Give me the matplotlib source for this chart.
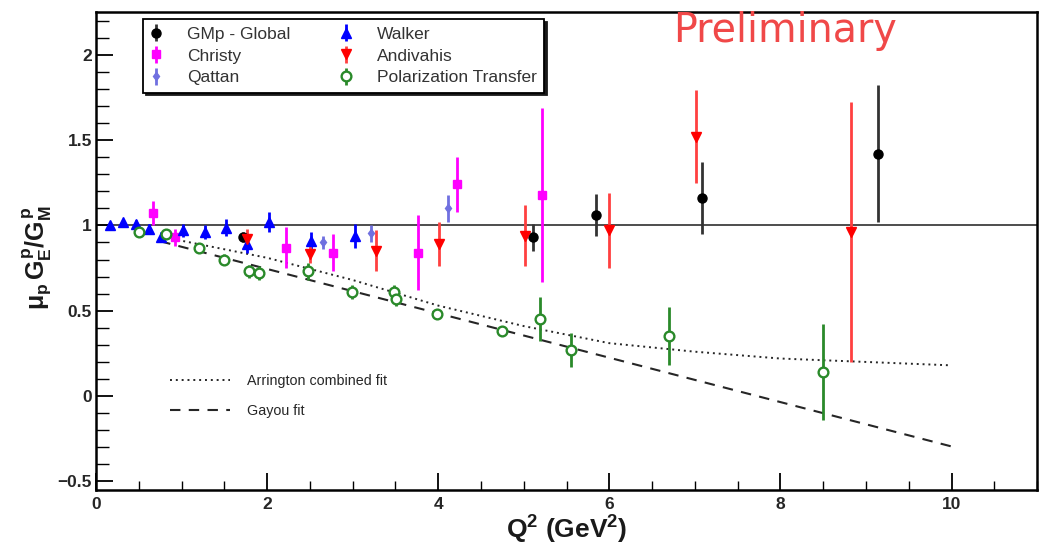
import matplotlib
matplotlib.use('Agg')
import matplotlib.pyplot as plt
from matplotlib.ticker import MultipleLocator, FuncFormatter

plt.rcParams['font.family'] = ['Liberation Sans', 'DejaVu Sans']
plt.rcParams['mathtext.fontset'] = 'custom'
plt.rcParams['mathtext.rm'] = 'Liberation Sans:bold'
plt.rcParams['mathtext.it'] = 'Liberation Sans:bold'
plt.rcParams['mathtext.bf'] = 'Liberation Sans:bold'

# GMp - Global
gmp_q2 = [1.72, 5.11, 5.84, 7.08, 9.14]
gmp_r = [0.93, 0.93, 1.06, 1.16, 1.42]
gmp_err = [0.03, 0.08, 0.125, 0.21, 0.40]

# Christy
christy_q2 = [0.67, 0.92, 2.22, 2.77, 3.76, 4.22, 5.21]
christy_r = [1.07, 0.93, 0.87, 0.84, 0.84, 1.24, 1.18]
christy_err = [0.07, 0.05, 0.12, 0.11, 0.22, 0.16, 0.51]

# Qattan
qattan_q2 = [2.65, 3.22, 4.11]
qattan_r = [0.90, 0.955, 1.10]
qattan_err = [0.04, 0.05, 0.08]

# Walker
walker_q2 = [0.16, 0.32, 0.47, 0.62, 0.76, 1.02, 1.27, 1.52, 1.76, 2.02, 2.51, 3.03]
walker_r = [1.0, 1.02, 1.01, 0.98, 0.93, 0.97, 0.96, 0.985, 0.89, 1.02, 0.91, 0.94]
walker_err = [0.02, 0.02, 0.02, 0.03, 0.03, 0.04, 0.04, 0.05, 0.05, 0.06, 0.05, 0.07]

# Andivahis
andi_q2 = [1.76, 2.50, 3.27, 4.01, 5.01, 6.0, 7.01, 8.83]
andi_r = [0.92, 0.83, 0.85, 0.89, 0.94, 0.97, 1.52, 0.96]
andi_err = [0.06, 0.05, 0.12, 0.13, 0.18, 0.22, 0.27, 0.76]

# Polarization Transfer
pt_q2 = [0.50, 0.82, 1.20, 1.50, 1.79, 1.90, 2.48, 2.99, 3.48, 3.51, 3.98,
         4.75, 5.19, 5.55, 6.70, 8.50]
pt_r = [0.96, 0.95, 0.87, 0.80, 0.73, 0.72, 0.73, 0.61, 0.61, 0.57, 0.48,
        0.38, 0.45, 0.27, 0.35, 0.14]
pt_err = [0.02, 0.02, 0.02, 0.03, 0.04, 0.04, 0.05, 0.04, 0.04, 0.04, 0.03,
          0.03, 0.13, 0.10, 0.17, 0.28]

# fit curves
arr_q2 = [0.75, 1.0, 2.0, 3.0, 4.0, 4.5, 5.0, 5.5, 6.0, 7.0, 8.0, 9.0, 10.0]
arr_r = [0.93, 0.91, 0.81, 0.68, 0.53, 0.47, 0.41, 0.36, 0.31, 0.26, 0.22, 0.20, 0.18]
gayou_q2 = [0.75, 10.0]
gayou_r = [0.907, -0.295]

fig = plt.figure(figsize=(10.45, 5.49), dpi=100)
ax = fig.add_axes([0.0919, 0.1075, 0.9005, 0.8707])

ax.axhline(1.0, color='0.3', lw=1.4, zorder=1)
fit1, = ax.plot(arr_q2, arr_r, color='0.15', lw=1.4, ls=(0, (1, 2)), zorder=2)
fit2, = ax.plot(gayou_q2, gayou_r, color='0.15', lw=1.5, ls=(0, (5, 4)), zorder=2)

eb = dict(capsize=0, elinewidth=2.0, linestyle='none', zorder=4)
h_gmp = ax.errorbar(gmp_q2, gmp_r, yerr=gmp_err, fmt='o', color='black',
                    ecolor='0.2', ms=6.5, **eb)
h_chr = ax.errorbar(christy_q2, christy_r, yerr=christy_err, fmt='s', color='#ff00ff',
                    ms=5.5, **eb)
h_qat = ax.errorbar(qattan_q2, qattan_r, yerr=qattan_err, fmt='d', color='#7070e0',
                    ms=4.5, **eb)
h_wal = ax.errorbar(walker_q2, walker_r, yerr=walker_err, fmt='^', color='#0000ff',
                    ms=7, **eb)
h_and = ax.errorbar(andi_q2, andi_r, yerr=andi_err, fmt='v', color='#ff0000',
                    ecolor='#ff4040', ms=7, **eb)
h_pt = ax.errorbar(pt_q2, pt_r, yerr=pt_err, fmt='o', color='#2a8a2a',
                   mfc='white', mec='#2a8a2a', mew=1.7, ms=7, **eb)

ax.set_xlim(0, 11)
ax.set_ylim(-0.55, 2.25)
ax.xaxis.set_major_locator(MultipleLocator(2))
ax.xaxis.set_minor_locator(MultipleLocator(0.5))
ax.yaxis.set_major_locator(MultipleLocator(0.5))
ax.yaxis.set_minor_locator(MultipleLocator(0.1))
fmt = FuncFormatter(lambda v, _: ('%g' % v).replace('-', '\u2212'))
ax.xaxis.set_major_formatter(fmt)
ax.yaxis.set_major_formatter(fmt)
ax.tick_params(axis='both', which='both', direction='in', top=False, right=False)
ax.tick_params(axis='x', which='major', length=12, width=1.3, pad=5)
ax.tick_params(axis='x', which='minor', length=6.5, width=1.0)
ax.tick_params(axis='y', which='major', length=12, width=1.3, pad=3)
ax.tick_params(axis='y', which='minor', length=9, width=1.0)
for lab in ax.get_xticklabels() + ax.get_yticklabels():
    lab.set_fontweight('bold')
    lab.set_fontsize(12.5)
    lab.set_color('0.15')
for sp in ax.spines.values():
    sp.set_linewidth(1.8)

ax.set_xlabel(r'Q$^{2}$ (GeV$^{2}$)', fontsize=19, fontweight='bold', color='0.1')
ax.xaxis.set_label_coords(0.5, -0.05)
ax.set_ylabel(r'$\mu_{p}\,G_{E}^{p}/G_{M}^{p}$', fontsize=18, color='0.1')
ax.yaxis.set_label_coords(-0.046, 0.485)

leg1 = ax.legend([h_gmp, h_chr, h_qat, h_wal, h_and, h_pt],
                 ['GMp - Global', 'Christy', 'Qattan', 'Walker', 'Andivahis',
                  'Polarization Transfer'],
                 ncol=2, loc='upper left', bbox_to_anchor=(0.05, 0.985),
                 borderaxespad=0, fontsize=12.5, frameon=True, fancybox=False,
                 shadow={'color': '0.1', 'alpha': 1}, edgecolor='black',
                 handlelength=0.6, handletextpad=1.5, columnspacing=2.9,
                 labelspacing=0.39, borderpad=0.42, labelcolor='0.2')
leg1.get_frame().set_linewidth(1.3)
ax.add_artist(leg1)

leg2 = ax.legend([fit1, fit2], ['Arrington combined fit', 'Gayou fit'],
                 loc='upper left', bbox_to_anchor=(0.0786, 0.243), frameon=False,
                 borderaxespad=0, borderpad=0, fontsize=10.3, handlelength=4.2,
                 handletextpad=1.2, labelspacing=1.15, labelcolor='0.15')

ax.text(0.613, 0.938, 'Preliminary', transform=ax.transAxes, fontsize=28.5,
        family='DejaVu Sans', color='#f04848', ha='left', va='baseline')

fig.savefig('out.png', dpi=100)
